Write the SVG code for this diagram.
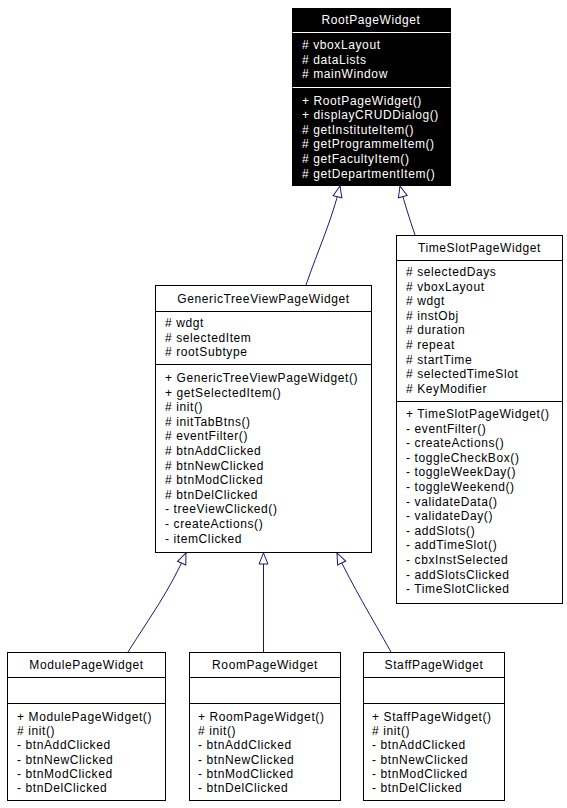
<svg xmlns="http://www.w3.org/2000/svg" width="567" height="808" viewBox="0 0 567 808">
<style>
text{font-family:"Liberation Sans",Arial,Helvetica,sans-serif;font-size:12px;fill:#000;letter-spacing:0.6px}
.t{text-anchor:middle}
.w{fill:#fff}
.box{fill:#fff;stroke:#000;stroke-width:1}
.sep{stroke:#000;stroke-width:1}
.wsep{stroke:#fff;stroke-width:1}
.edge{fill:none;stroke:#191970;stroke-width:1;marker-end:url(#tri)}
</style>
<defs>
<marker id="tri" markerWidth="12" markerHeight="10" refX="11" refY="4.5" orient="auto" markerUnits="userSpaceOnUse" overflow="visible">
<path d="M0,0 L11,4.5 L0,9 Z" fill="#fff" stroke="#191970" stroke-width="1"/>
</marker>
</defs>
<rect width="567" height="808" fill="#fff"/>
<g id="connectors">
<path class="edge" d="M306,285 C318,250 332,220 340,186"/>
<path class="edge" d="M415,235 C410,220 405,205 400,186"/>
<path class="edge" d="M128,652 C150,617 170,590 186,553"/>
<path class="edge" d="M263.5,652 L263.5,553"/>
<path class="edge" d="M391,652 C372,618 352,585 337,553"/>
</g>
<g id="RootPageWidget">
<rect x="292.5" y="8.5" width="158" height="177" fill="#000" stroke="#000"/>
<line class="wsep" x1="292.5" y1="32.5" x2="450.5" y2="32.5"/>
<line class="wsep" x1="292.5" y1="87.5" x2="450.5" y2="87.5"/>
<text class="t w" x="371" y="24">RootPageWidget</text>
<text class="w" x="302" y="49"># vboxLayout</text>
<text class="w" x="302" y="63.6"># dataLists</text>
<text class="w" x="302" y="78.2"># mainWindow</text>
<text class="w" x="302" y="104.5">+ RootPageWidget()</text>
<text class="w" x="302" y="119.1">+ displayCRUDDialog()</text>
<text class="w" x="302" y="133.7"># getInstituteItem()</text>
<text class="w" x="302" y="148.3"># getProgrammeItem()</text>
<text class="w" x="302" y="162.9"># getFacultyItem()</text>
<text class="w" x="302" y="177.5"># getDepartmentItem()</text>
</g>
<g id="GenericTreeViewPageWidget">
<rect class="box" x="155.5" y="285.5" width="216" height="267"/>
<line class="sep" x1="155.5" y1="311.5" x2="371.5" y2="311.5"/>
<line class="sep" x1="155.5" y1="364.5" x2="371.5" y2="364.5"/>
<text class="t" x="263.5" y="302.5">GenericTreeViewPageWidget</text>
<text x="165" y="327"># wdgt</text>
<text x="165" y="341.6"># selectedItem</text>
<text x="165" y="356.2"># rootSubtype</text>
<text x="165" y="382">+ GenericTreeViewPageWidget()</text>
<text x="165" y="396.6">+ getSelectedItem()</text>
<text x="165" y="411.2"># init()</text>
<text x="165" y="425.8"># initTabBtns()</text>
<text x="165" y="440.4"># eventFilter()</text>
<text x="165" y="455"># btnAddClicked</text>
<text x="165" y="469.6"># btnNewClicked</text>
<text x="165" y="484.2"># btnModClicked</text>
<text x="165" y="498.8"># btnDelClicked</text>
<text x="165" y="513.4">- treeViewClicked()</text>
<text x="165" y="528">- createActions()</text>
<text x="165" y="542.6">- itemClicked</text>
</g>
<g id="TimeSlotPageWidget">
<rect class="box" x="396.5" y="235.5" width="166" height="368"/>
<line class="sep" x1="396.5" y1="260.5" x2="562.5" y2="260.5"/>
<line class="sep" x1="396.5" y1="401.5" x2="562.5" y2="401.5"/>
<text class="t" x="479.5" y="251.5">TimeSlotPageWidget</text>
<text x="406" y="276"># selectedDays</text>
<text x="406" y="290.6"># vboxLayout</text>
<text x="406" y="305.2"># wdgt</text>
<text x="406" y="319.8"># instObj</text>
<text x="406" y="334.4"># duration</text>
<text x="406" y="349"># repeat</text>
<text x="406" y="363.6"># startTime</text>
<text x="406" y="378.2"># selectedTimeSlot</text>
<text x="406" y="392.8"># KeyModifier</text>
<text x="406" y="418">+ TimeSlotPageWidget()</text>
<text x="406" y="432.6">- eventFilter()</text>
<text x="406" y="447.2">- createActions()</text>
<text x="406" y="461.8">- toggleCheckBox()</text>
<text x="406" y="476.4">- toggleWeekDay()</text>
<text x="406" y="491">- toggleWeekend()</text>
<text x="406" y="505.6">- validateData()</text>
<text x="406" y="520.2">- validateDay()</text>
<text x="406" y="534.8">- addSlots()</text>
<text x="406" y="549.4">- addTimeSlot()</text>
<text x="406" y="564">- cbxInstSelected</text>
<text x="406" y="578.6">- addSlotsClicked</text>
<text x="406" y="593.2">- TimeSlotClicked</text>
</g>
<g id="ModulePageWidget">
<rect class="box" x="7.5" y="652.5" width="158" height="148"/>
<line class="sep" x1="7.5" y1="677.5" x2="165.5" y2="677.5"/>
<line class="sep" x1="7.5" y1="703.5" x2="165.5" y2="703.5"/>
<text class="t" x="86.5" y="669">ModulePageWidget</text>
<text x="17" y="721">+ ModulePageWidget()</text>
<text x="17" y="735.2"># init()</text>
<text x="17" y="749.4">- btnAddClicked</text>
<text x="17" y="763.6">- btnNewClicked</text>
<text x="17" y="777.8">- btnModClicked</text>
<text x="17" y="792">- btnDelClicked</text>
</g>
<g id="RoomPageWidget">
<rect class="box" x="189.5" y="652.5" width="151" height="148"/>
<line class="sep" x1="189.5" y1="677.5" x2="340.5" y2="677.5"/>
<line class="sep" x1="189.5" y1="703.5" x2="340.5" y2="703.5"/>
<text class="t" x="265" y="669">RoomPageWidget</text>
<text x="198" y="721">+ RoomPageWidget()</text>
<text x="198" y="735.2"># init()</text>
<text x="198" y="749.4">- btnAddClicked</text>
<text x="198" y="763.6">- btnNewClicked</text>
<text x="198" y="777.8">- btnModClicked</text>
<text x="198" y="792">- btnDelClicked</text>
</g>
<g id="StaffPageWidget">
<rect class="box" x="363.5" y="652.5" width="141" height="148"/>
<line class="sep" x1="363.5" y1="677.5" x2="504.5" y2="677.5"/>
<line class="sep" x1="363.5" y1="703.5" x2="504.5" y2="703.5"/>
<text class="t" x="434" y="669">StaffPageWidget</text>
<text x="372" y="721">+ StaffPageWidget()</text>
<text x="372" y="735.2"># init()</text>
<text x="372" y="749.4">- btnAddClicked</text>
<text x="372" y="763.6">- btnNewClicked</text>
<text x="372" y="777.8">- btnModClicked</text>
<text x="372" y="792">- btnDelClicked</text>
</g>
</svg>
